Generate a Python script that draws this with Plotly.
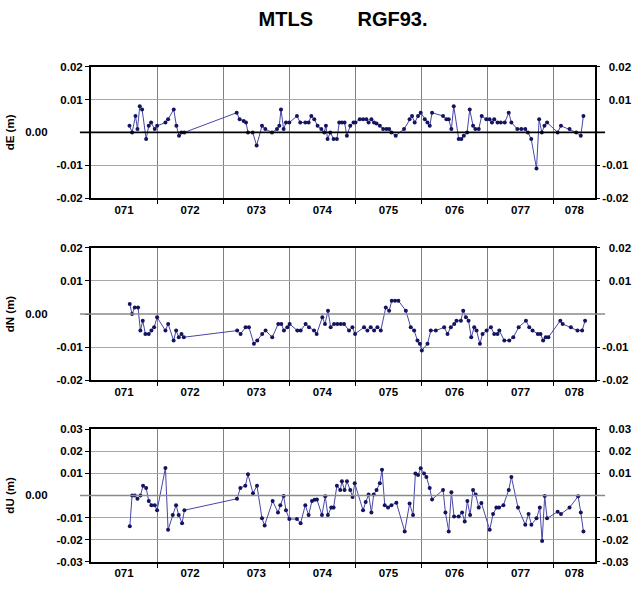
import plotly.graph_objects as go

# ---------------- data (time in axis-interval units; labels 071..078) ----------------
period_labels = ["071", "072", "073", "074", "075", "076", "077", "078"]
t_end = 7.625

dE_t = [0.582, 0.622, 0.673, 0.703, 0.738, 0.773, 0.834, 0.874, 0.909, 0.965, 1.0, 1.126, 1.166, 1.252, 1.292, 1.332, 1.368, 1.413,
        2.204, 2.249, 2.31, 2.345, 2.375, 2.446, 2.506, 2.587, 2.637, 2.738, 2.814, 2.849, 2.874, 2.914, 2.95, 3.0, 3.116, 3.166,
        3.242, 3.292, 3.333, 3.378, 3.428, 3.484, 3.529, 3.554, 3.579, 3.62, 3.67, 3.72, 3.756, 3.796, 3.836, 3.871, 3.922, 3.972,
        4.0, 4.066, 4.116, 4.166, 4.2, 4.242, 4.282, 4.32, 4.37, 4.42, 4.47, 4.51, 4.545, 4.61, 4.736, 4.82, 4.857, 4.897, 4.948,
        4.988, 5.05, 5.09, 5.125, 5.16, 5.326, 5.377, 5.412, 5.452, 5.488, 5.563, 5.603, 5.64, 5.69, 5.73, 5.78, 5.815, 5.866,
        5.911, 5.98, 6.03, 6.066, 6.1, 6.15, 6.2, 6.26, 6.32, 6.36, 6.45, 6.51, 6.57, 6.61, 6.66, 6.74, 6.78, 6.82, 6.86, 6.9,
        7.06, 7.11, 7.24, 7.34, 7.41, 7.45]
dE_v = [0.002, 0.000, 0.005, 0.001, 0.008, 0.007, -0.002, 0.002, 0.003, 0.001, 0.002, 0.003, 0.004, 0.007, 0.002, -0.001, 0.000, 0.000,
        0.006, 0.004, 0.0035, 0.003, 0.000, 0.000, -0.004, 0.002, 0.001, 0.000, 0.001, 0.002, 0.007, 0.001, 0.003, 0.003, 0.005, 0.003,
        0.003, 0.003, 0.005, 0.004, 0.002, 0.001, 0.000, 0.002, -0.002, 0.000, -0.002, -0.002, 0.003, 0.003, 0.003, -0.001, 0.002, 0.003,
        0.003, 0.004, 0.004, 0.004, 0.003, 0.004, 0.003, 0.0027, 0.002, 0.001, 0.001, 0.001, 0.000, -0.001, 0.001, 0.004, 0.005, 0.003, 0.005,
        0.006, 0.004, 0.003, 0.002, 0.006, 0.005, 0.004, 0.004, 0.001, 0.008, -0.002, -0.002, -0.001, 0.000, 0.007, 0.002, 0.001, 0.001,
        0.005, 0.004, 0.004, 0.003, 0.004, 0.003, 0.003, 0.003, 0.006, 0.003, 0.001, 0.001, 0.001, 0.000, -0.002, -0.011, 0.004, 0.000, 0.002, 0.003,
        0.000, 0.002, 0.001, 0.000, -0.001, 0.005]

dN_t = [0.586, 0.621, 0.662, 0.712, 0.747, 0.783, 0.823, 0.874, 0.914, 0.955, 1.0, 1.126, 1.167, 1.25, 1.288, 1.328, 1.369, 1.404,
        2.212, 2.263, 2.338, 2.389, 2.465, 2.515, 2.59, 2.641, 2.742, 2.833, 2.879, 2.919, 2.97, 3.005, 3.121, 3.172, 3.247, 3.298,
        3.374, 3.414, 3.5, 3.54, 3.586, 3.626, 3.677, 3.727, 3.778, 3.828, 3.904, 3.955, 3.995, 4.131, 4.182, 4.232, 4.283, 4.333,
        4.384, 4.46, 4.51, 4.55, 4.6, 4.65, 4.763, 4.838, 4.889, 4.939, 4.975, 5.005, 5.091, 5.141, 5.217, 5.343, 5.394, 5.444,
        5.495, 5.53, 5.596, 5.631, 5.672, 5.712, 5.753, 5.798, 5.833, 5.884, 5.924, 5.985, 6.05, 6.1, 6.15, 6.177, 6.253, 6.328,
        6.389, 6.47, 6.58, 6.63, 6.68, 6.76, 6.8, 6.84, 6.88, 6.92, 7.1, 7.136, 7.26, 7.36, 7.43, 7.475]
dN_v = [0.003, 0.000, 0.002, 0.002, -0.005, -0.002, -0.006, -0.006, -0.005, -0.004, -0.001, -0.005, -0.003, -0.008, -0.005, -0.007, -0.006, -0.007,
        -0.005, -0.006, -0.004, -0.004, -0.009, -0.008, -0.006, -0.005, -0.007, -0.003, -0.003, -0.005, -0.004, -0.003, -0.005, -0.005, -0.003, -0.004,
        -0.005, -0.006, -0.001, -0.003, 0.001, -0.004, -0.003, -0.003, -0.003, -0.003, -0.005, -0.004, -0.006, -0.004, -0.005, -0.004, -0.005, -0.004,
        -0.005, 0.002, 0.001, 0.004, 0.004, 0.004, 0.001, -0.004, -0.005, -0.008, -0.009, -0.011, -0.009, -0.005, -0.005, -0.004, -0.006, -0.004,
        -0.003, -0.002, -0.002, 0.001, -0.001, -0.002, -0.007, -0.004, -0.005, -0.009, -0.006, -0.005, -0.004, -0.006, -0.006, -0.005, -0.008, -0.008,
        -0.007, -0.004, -0.002, -0.004, -0.005, -0.006, -0.006, -0.008, -0.007, -0.007, -0.002, -0.003, -0.004, -0.005, -0.005, -0.002]

dU_t = [0.587, 0.622, 0.662, 0.703, 0.748, 0.788, 0.834, 0.874, 0.914, 0.965, 1.0, 1.126, 1.166, 1.237, 1.287, 1.327, 1.378, 1.413,
        2.209, 2.26, 2.335, 2.375, 2.451, 2.511, 2.587, 2.627, 2.748, 2.829, 2.864, 2.914, 2.95, 3.0, 3.116, 3.171, 3.242, 3.292,
        3.343, 3.383, 3.418, 3.494, 3.544, 3.584, 3.635, 3.67, 3.72, 3.771, 3.796, 3.836, 3.872, 3.922, 3.957, 3.99, 4.116, 4.156,
        4.2, 4.242, 4.277, 4.32, 4.37, 4.403, 4.444, 4.494, 4.545, 4.62, 4.746, 4.82, 4.872, 4.908, 4.948, 4.988, 5.039, 5.074,
        5.124, 5.16, 5.326, 5.362, 5.412, 5.452, 5.493, 5.563, 5.614, 5.654, 5.694, 5.735, 5.78, 5.82, 5.866, 5.906, 6.032, 6.083,
        6.133, 6.173, 6.239, 6.32, 6.36, 6.46, 6.57, 6.62, 6.663, 6.74, 6.79, 6.825, 6.864, 6.9, 7.06, 7.11, 7.24, 7.37, 7.41, 7.45]
dU_v = [-0.014, 0.000, 0.000, -0.0015, 0.000, 0.0044, 0.0034, -0.0025, -0.0044, -0.0044, -0.0067, 0.0125, -0.0156, -0.0089, -0.0044, -0.0089, -0.0126, -0.0067,
        -0.0015, 0.0034, 0.0044, 0.0096, 0.001, 0.0044, -0.0104, -0.0136, -0.0025, -0.0077, -0.0044, -0.0003, -0.0067, -0.0107, -0.0107, -0.0126, -0.0044, -0.0089,
        -0.0025, -0.002, -0.0018, -0.0089, -0.0004, -0.0089, -0.0055, -0.0055, 0.0044, 0.0025, 0.0064, 0.0025, 0.0064, 0.0025, -0.0007, 0.0055, -0.0067, -0.003,
        0.0004, -0.0077, 0.0004, 0.0025, 0.0055, 0.0116, -0.0044, -0.0055, -0.0044, -0.0033, -0.0163, -0.0037, -0.0089, 0.010, 0.0093, 0.0123, 0.0099, 0.0084,
        0.0034, -0.0018, 0.0025, -0.0077, -0.0163, 0.0015, -0.0096, -0.0096, -0.0077, -0.0118, -0.0025, -0.0089, 0.0025, 0.0004, -0.0055, -0.0034, -0.0156, -0.0084,
        -0.0055, -0.0055, -0.0044, 0.0025, 0.0084, -0.0055, -0.0133, -0.0084, -0.0133, -0.0104, -0.0055, -0.0207, -0.0003, -0.0104, -0.0074, -0.0084, -0.0055, -0.0004,
        -0.0077, -0.0163]

yticks_small = [-0.02, -0.01, 0.0, 0.01, 0.02]
yticks_big = [-0.03, -0.02, -0.01, 0.0, 0.01, 0.02, 0.03]
titles = ["dE (m)", "dN (m)", "dU (m)"]

assert len(dE_t) == len(dE_v) and len(dN_t) == len(dN_v) and len(dU_t) == len(dU_v)

# ---------------- figure ----------------
W, H = 632, 596
FONT = "Liberation Sans"
LINE_C = "#4646a8"
MARK_C = "#14145e"
NB = "\u00a0"

panels_px = [(62, 196), (246.7, 382), (432, 567)]  # top/bottom pixel of each frame
domains = [[(H - b) / H, (H - t) / H] for t, b in panels_px]

series = [(dE_t, dE_v, yticks_small), (dN_t, dN_v, yticks_small), (dU_t, dU_v, yticks_big)]

fig = go.Figure()
tickfont = dict(family=FONT, size=11.5, color="black", weight="bold")

# label positions: middle of each interval (clipped to axis range)
lab_pos = [(k + min(k + 1, t_end)) / 2 for k in range(len(period_labels))]

def fmt(v):
    return f"{v:.2f}"

for i, (tt, vv, yt) in enumerate(series):
    n = i + 1
    xa = "x" if n == 1 else f"x{n}"
    ya = "y" if n == 1 else f"y{n}"
    fig.add_trace(go.Scatter(x=tt, y=vv, xaxis=xa, yaxis=ya, mode="lines+markers",
                             line=dict(color=LINE_C, width=1),
                             marker=dict(color=MARK_C, size=4),
                             showlegend=False, hoverinfo="x+y"))
    # invisible companion on right-hand axis so it gets drawn
    fig.add_trace(go.Scatter(x=[tt[0]], y=[vv[0]], xaxis=xa, yaxis=f"y{n + 3}", mode="markers",
                             marker=dict(opacity=0), showlegend=False, hoverinfo="skip"))
    rng = [yt[0], yt[-1]]
    left_text = [(fmt(v) + NB * 11) if v == 0 else fmt(v) for v in yt]
    right_vals = [v for v in yt if v != 0]
    right_text = [(NB * 2 + fmt(v)) if v > 0 else fmt(v) for v in right_vals]
    grid_vals = [v for v in yt if v != 0]

    xkey = "xaxis" if n == 1 else f"xaxis{n}"
    fig.layout[xkey] = dict(
        domain=[0, 1], range=[0, t_end], anchor=ya,
        tickmode="array", tickvals=lab_pos, ticktext=period_labels,
        ticks="", showgrid=False, zeroline=False,
        showline=True, mirror=True, linecolor="black", linewidth=2,
        tickfont=tickfont,
        minor=dict(tickmode="array", tickvals=list(range(1, 8)), showgrid=True,
                   gridcolor="#808080", gridwidth=1, ticks="outside", ticklen=4,
                   tickcolor="black", tickwidth=1),
        fixedrange=True,
    )
    if n > 1:
        fig.layout[xkey].matches = "x"
    ykey = "yaxis" if n == 1 else f"yaxis{n}"
    fig.layout[ykey] = dict(
        domain=domains[i], range=rng, anchor=xa,
        tickmode="array", tickvals=yt, ticktext=left_text,
        ticks="outside", ticklen=4, tickcolor="black",
        showgrid=False, zeroline=False,
        showline=True, mirror=True, linecolor="black", linewidth=2,
        tickfont=tickfont,
        minor=dict(tickmode="array", tickvals=grid_vals, showgrid=True,
                   gridcolor="#a8a8a8", gridwidth=1, ticks=""),
        title=dict(text=titles[i], font=dict(family=FONT, size=11.5, color="black", weight="bold"), standoff=8),
        fixedrange=True,
    )
    fig.layout[f"yaxis{n + 3}"] = dict(
        overlaying=ya, side="right", anchor=xa, range=rng,
        tickmode="array", tickvals=right_vals, ticktext=right_text,
        ticks="outside", ticklen=4, tickcolor="black",
        showgrid=False, zeroline=False, showline=False,
        tickfont=tickfont, fixedrange=True,
    )
    # zero reference line extending a little beyond the frame
    fig.add_shape(type="line", xref="paper", yref=ya, x0=-0.022, x1=1.02, y0=0, y1=0,
                  line=dict(color="black" if n == 1 else "#8a8a8a", width=1.6), layer="above")
    # keep data drawn over the reference line by re-adding nothing; shape is thin

fig.update_layout(
    width=W, height=H,
    margin=dict(l=91, r=37, t=0, b=0),
    paper_bgcolor="white", plot_bgcolor="white",
    title=dict(text="MTLS" + NB * 8 + "RGF93.", x=0.5, xref="paper", xanchor="center",
               y=1 - 18.5 / H, yref="container", yanchor="middle",
               font=dict(family=FONT, size=20, color="black", weight="bold")),
)

fig.write_html("out.html")
